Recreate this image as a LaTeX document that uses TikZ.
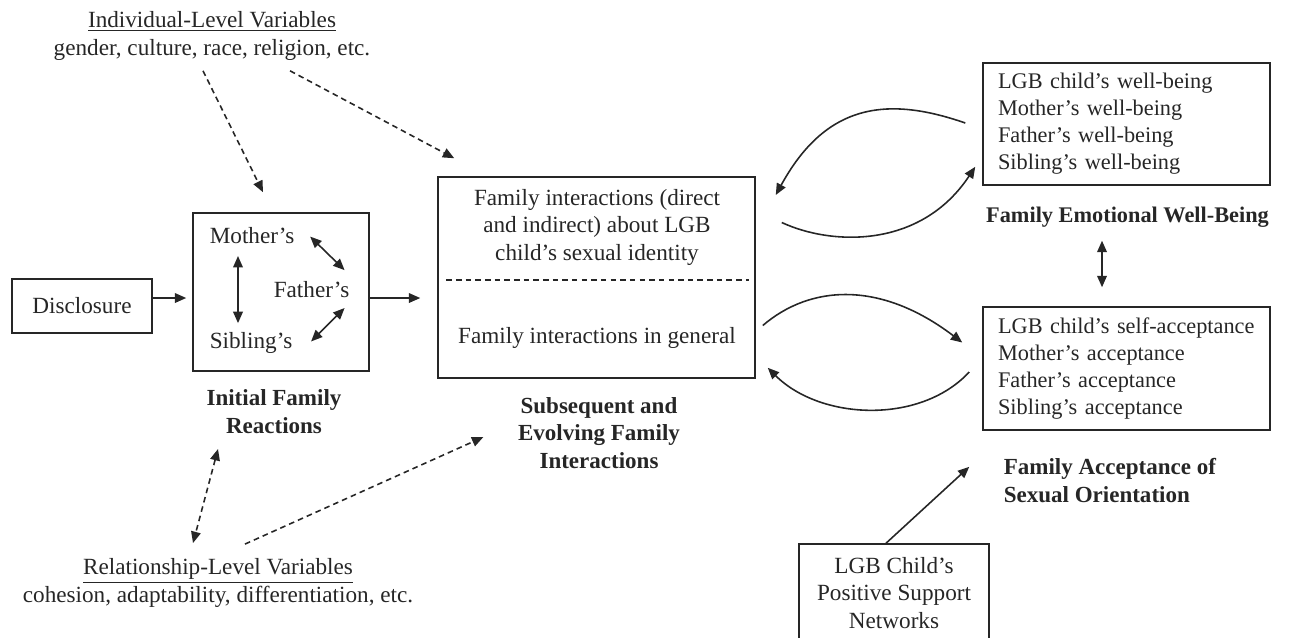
\documentclass[tikz,border=0pt]{standalone}
\usepackage{fontspec}
\setmainfont{Liberation Serif}
\usetikzlibrary{arrows.meta,calc}

\begin{document}
\begin{tikzpicture}[x=0.02cm,y=-0.02cm,line width=0.9pt,color=black!85,
    >={Triangle[length=6.5pt,width=5.5pt]},
    every node/.style={font=\fontsize{13.2}{15.4}\selectfont},
    box/.style={draw,align=left},
    list/.style={box,inner xsep=0.3cm,text width=5.14cm,font=\fontsize{12.7}{15.4}\selectfont},
    txt/.style={inner sep=0pt,align=center},
    lbl/.style={txt,font=\fontsize{13.1}{15.4}\selectfont\bfseries},
    dsh/.style={dash pattern=on 3.2pt off 2.3pt}]
    \useasboundingbox (0,0) rectangle (1293,637);

    \node[txt,anchor=base] (indiv) at (212,55) {\underline{Individual-Level Variables}\\gender, culture, race, religion, etc.};
    \node[txt,anchor=base] (rel) at (218,602) {\underline{Relationship-Level Variables}\\cohesion, adaptability, differentiation, etc.};

    \node[box,minimum width=2.8cm,minimum height=1.08cm] (disc) at (82,306) {Disclosure};
    \node[box,minimum width=3.52cm,minimum height=3.16cm] (init) at (281,292) {};
    \node[txt,anchor=base west] (mom) at (209,243) {Mother's};
    \node[txt,anchor=base west] (dad) at (273,297) {Father's};
    \node[txt,anchor=base west] (sib) at (209,348) {Sibling's};
    \node[lbl,anchor=base] (initlbl) at (274,433) {Initial Family\\Reactions};

    \node[box,minimum width=6.34cm,minimum height=4.02cm] (mid) at (596.5,277.5) {};
    \node[txt,anchor=base] (midtop) at (597,260) {Family interactions (direct\\and indirect) about LGB\\child's sexual identity};
    \node[txt,anchor=base] (midgen) at (597,343) {Family interactions in general};
    \node[lbl,anchor=base] (midlbl) at (599,468) {Subsequent and\\Evolving Family\\Interactions};

    \node[list,minimum height=2.44cm] (wb) at (1126.5,124) {LGB child's well-being\\Mother's well-being\\Father's well-being\\Sibling's well-being};
    \node[lbl,anchor=base,font=\fontsize{12.7}{15.4}\selectfont\bfseries] (wblbl) at (1127.5,222) {Family Emotional Well-Being};
    \node[list,minimum height=2.46cm] (acc) at (1126.5,368.5) {LGB child's self-acceptance\\Mother's acceptance\\Father's acceptance\\Sibling's acceptance};
    \node[lbl,anchor=base west,align=left] (acclbl) at (1003,502) {Family Acceptance of\\Sexual Orientation};
    \node[box,align=center,minimum width=3.8cm,minimum height=1.96cm] (sup) at (894,593) {LGB Child's\\Positive Support\\Networks};

    \draw[dsh] ($(mid.west)+(9,2.5)$) -- ($(mid.east)+(-7,2.5)$);

    \draw[->] ($(disc.east)+(0,-8)$) -- ($(init.west)+(-6,6)$);
    \draw[->] ($(init.east)+(0,6)$) -- ($(mid.west)+(-17,20.5)$);
    \draw[<->] ($(mom.south west)+(29,12)$) -- ($(sib.north west)+(29,-8)$);
    \draw[<->] ($(mom.east)+(15,1.5)$) -- ($(dad.north)+(33,-10)$);
    \draw[<->] ($(dad.south)+(33,10)$) -- ($(sib.east)+(18,-1)$);

    \draw[->,dsh] ($(indiv.south)+(-9,10)$) -- ($(init.north)+(-18,-20)$);
    \draw[->,dsh] ($(indiv.south)+(78,10)$) -- ($(mid.north west)+(17,-18)$);
    \draw[<->,dsh] ($(initlbl.south)+(-56,15)$) -- ($(rel.north)+(-25,-15)$);
    \draw[->,dsh] ($(rel.north)+(27,-14)$) -- ($(midlbl.west)+(-34,4)$);

    \draw[->] ($(wb.west)+(-17,-1)$) .. controls (885,95) and (825,105) .. ($(mid.east)+(20,-82.5)$);
    \draw[->] ($(mid.east)+(26,-55)$) .. controls (830,245) and (920,250) .. ($(wb.south west)+(-7,-19)$);
    \draw[->] ($(mid.east)+(7,48)$) .. controls (810,285) and (880,280) .. ($(acc.west)+(-20,-26)$);
    \draw[->] ($(acc.west)+(-13,3.5)$) .. controls (920,425) and (820,420) .. ($(mid.south east)+(12,-11)$);

    \draw[<->] ($(wblbl.south)+(-25.5,13)$) -- ($(acc.north)+(-24.5,-19)$);
    \draw[->] ($(sup.north)+(-8,0)$) -- ($(acc.south west)+(-13,36)$);
\end{tikzpicture}
\end{document}
